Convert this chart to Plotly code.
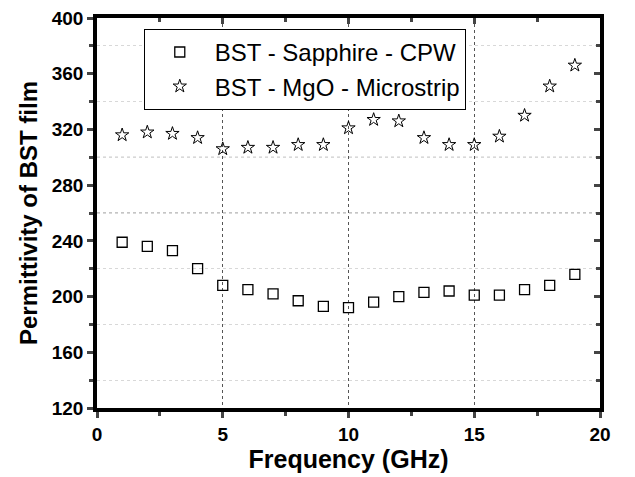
import plotly.graph_objects as go

freq = list(range(1, 20))
sapphire_cpw = [239, 236, 233, 220, 208, 205, 202, 197, 193, 192, 196, 200, 203, 204, 201, 201, 205, 208, 216]
mgo_microstrip = [316, 318, 317, 314, 306, 307, 307, 309, 309, 321, 327, 326, 314, 309, 309, 315, 330, 351, 366]
series_names = ["BST - Sapphire - CPW", "BST - MgO - Microstrip"]
dark_grid_y = [260, 300]

FONT = "Arial, Liberation Sans, sans-serif"

fig = go.Figure()
fig.add_trace(go.Scatter(
    x=freq, y=sapphire_cpw, mode="markers", name=series_names[0],
    marker=dict(symbol="square-open", size=10, color="black", line=dict(width=1.3, color="black")),
))
fig.add_trace(go.Scatter(
    x=freq, y=mgo_microstrip, mode="markers", name=series_names[1],
    marker=dict(symbol="star-open", size=10, color="black", line=dict(width=1, color="black")),
))
# helper trace for mirrored inward ticks on top/right
fig.add_trace(go.Scatter(x=[None], y=[None], xaxis="x2", yaxis="y2", showlegend=False,
                         hoverinfo="skip", mode="markers"))

for v in dark_grid_y:
    fig.add_shape(type="line", xref="paper", x0=0, x1=1, yref="y", y0=v, y1=v,
                  line=dict(color="#8a8a8a", width=1, dash="dot"), layer="below")

fig.update_layout(
    width=635, height=477,
    margin=dict(l=89, r=43, t=10, b=77),
    paper_bgcolor="white", plot_bgcolor="white",
    font=dict(family=FONT, color="black"),
    showlegend=True,
    legend=dict(x=0.093, y=0.972, xanchor="left", yanchor="top",
                bgcolor="white", bordercolor="black", borderwidth=1,
                font=dict(size=24, family=FONT), itemwidth=60,
                tracegroupgap=0),
    xaxis=dict(
        range=[0, 20], tickvals=[0, 5, 10, 15, 20], ticks="outside", ticklen=6, tickwidth=3,
        showline=True, linewidth=3.5, linecolor="black", mirror=True, automargin=False,
        showgrid=True, gridcolor="#555", griddash="3px,3px", gridwidth=1,
        zeroline=False, ticklabelstandoff=0, ticklabeloverflow="allow",
        tickfont=dict(size=19, family=FONT, weight="bold"),
        title=dict(text="Frequency (GHz)", font=dict(size=25, family=FONT, weight="bold"), standoff=1),
        minor=dict(tickvals=[2.5, 7.5, 12.5, 17.5], ticks="outside", ticklen=4, tickwidth=3, showgrid=False),
    ),
    yaxis=dict(
        range=[120, 400], tickvals=[120, 160, 200, 240, 280, 320, 360, 400], ticks="outside", ticklen=6, tickwidth=3,
        showline=True, linewidth=3.5, linecolor="black", mirror=True, automargin=False,
        showgrid=False, zeroline=False, ticklabeloverflow="allow",
        tickfont=dict(size=19, family=FONT, weight="bold"),
        title=dict(text="Permittivity of BST film", font=dict(size=24, family=FONT, weight="bold"), standoff=8),
        minor=dict(tickvals=[140, 180, 220, 260, 300, 340, 380], ticks="outside", ticklen=4, tickwidth=3,
                   showgrid=True, gridcolor="#d8d8d8", griddash="dot", gridwidth=1),
    ),
    xaxis2=dict(
        overlaying="x", side="top", range=[0, 20], tickvals=[0, 5, 10, 15, 20], ticks="inside", ticklen=6,
        tickwidth=3, showticklabels=False, showgrid=False, zeroline=False, showline=False, automargin=False,
        minor=dict(tickvals=[2.5, 7.5, 12.5, 17.5], ticks="inside", ticklen=4, tickwidth=3),
    ),
    yaxis2=dict(
        overlaying="y", side="right", range=[120, 400], tickvals=[120, 160, 200, 240, 280, 320, 360, 400],
        ticks="inside", ticklen=6, tickwidth=3, showticklabels=False, showgrid=False, zeroline=False,
        showline=False, automargin=False,
        minor=dict(tickvals=[140, 180, 220, 260, 300, 340, 380], ticks="inside", ticklen=4, tickwidth=3),
    ),
)

fig.write_html("out.html")
